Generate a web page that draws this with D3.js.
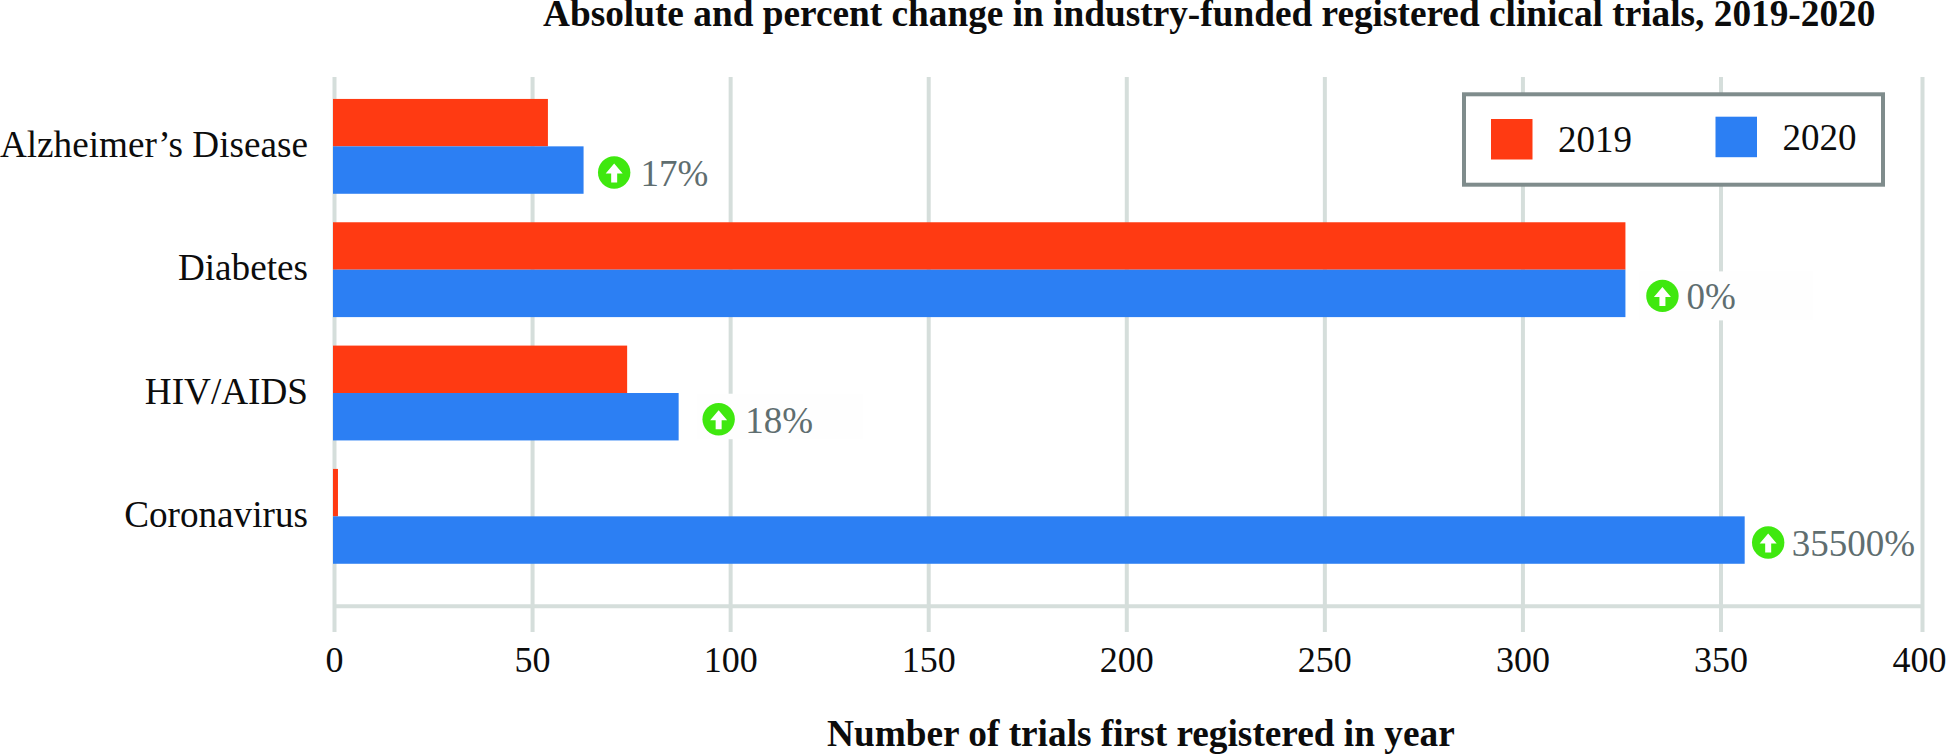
<!DOCTYPE html>
<html>
<head>
<meta charset="utf-8">
<script src="https://cdn.jsdelivr.net/npm/d3@7/dist/d3.min.js"></script>
<style>
html,body{margin:0;padding:0;background:#fff;overflow:hidden}
svg{display:block}
text{font-family:"Liberation Serif","Times New Roman",serif}
</style>
</head>
<body>
<svg id="chart" width="1946" height="756"></svg>
<script>
const categories = ["Alzheimer’s Disease", "Diabetes", "HIV/AIDS", "Coronavirus"];
const seriesNames = ["2019", "2020"];
const values2019 = [54, 326, 74, 1];
const values2020 = [63, 326, 87, 356];
const percentLabels = ["17%", "0%", "18%", "35500%"];
const tickValues = [0, 50, 100, 150, 200, 250, 300, 350, 400];
const titleText = "Absolute and percent change in industry-funded registered clinical trials, 2019-2020";
const xTitleText = "Number of trials first registered in year";

const RED = "#ff3a12", BLUE = "#2c7ff3", GRID = "#d5dedb", FRAME = "#7f8c8c",
      GREEN = "#3fe80f", GREY = "#5f6e70", INK = "#0c0c0c";

const svg = d3.select("#chart");
const x = d3.scaleLinear().domain([0, 350, 400]).range([334, 1720.5, 1922]);
const y = d3.scaleBand().domain(categories).range([57, 605.7]).paddingInner(0.231).paddingOuter(0.34);
const ySub = d3.scaleBand().domain(seriesNames).range([0, y.bandwidth()]);
const colour = d3.scaleOrdinal().domain(seriesNames).range([RED, BLUE]);

// axis + gridlines
const axis = d3.axisBottom(x).tickValues(tickValues).tickSizeOuter(0).tickFormat(d3.format("d"));
const axisY = 605.7;
const gAxis = svg.append("g").attr("transform", `translate(0,${axisY})`).call(axis);
gAxis.select(".domain").attr("stroke", GRID).attr("stroke-width", 4);
gAxis.selectAll(".tick line").attr("stroke", GRID).attr("stroke-width", 4).attr("y1", 26.3).attr("y2", 77 - axisY);
gAxis.selectAll(".tick text")
  .attr("y", 66.5).attr("dy", 0).attr("fill", INK)
  .attr("dx", d => d === 400 ? -3 : 0)
  .style("font-size", "36px").style("font-family", '"Liberation Serif",serif');

// pale knock-outs behind two of the percent labels
const knockouts = [
  {cat: "Diabetes", gap: 14, w: 174, top: -22, h: 49},
  {cat: "HIV/AIDS", gap: 18.5, w: 166, top: -23, h: 45.5}
];
svg.selectAll("rect.knock").data(knockouts).join("rect").attr("class", "knock")
  .attr("x", d => x(values2020[categories.indexOf(d.cat)]) + d.gap)
  .attr("y", d => y(d.cat) + ySub("2020") + ySub.bandwidth() / 2 + d.top)
  .attr("width", d => d.w).attr("height", d => d.h).attr("fill", "#fefefe");

// bars
const barStart = x(0) - 1;
[values2019, values2020].forEach((vals, s) => {
  svg.append("g").selectAll("rect").data(vals).join("rect")
    .attr("x", barStart)
    .attr("y", (d, i) => y(categories[i]) + ySub(seriesNames[s]))
    .attr("width", d => x(d) - barStart)
    .attr("height", ySub.bandwidth())
    .attr("fill", colour(seriesNames[s]));
});

// category labels
svg.append("g").selectAll("text").data(categories).join("text")
  .attr("x", 308).attr("y", d => y(d) + y.bandwidth() / 2 + 10.5)
  .attr("text-anchor", "end").attr("fill", INK).style("font-size", "37.2px").text(d => d);

// percent change markers
const circleGap = [30.6, 37, 40, 23.5];
const textGap = [57, 61, 66.5, 47];
const mark = svg.append("g").selectAll("g").data(categories).join("g")
  .attr("transform", (d, i) => `translate(${x(values2020[i])},${y(d) + ySub("2020") + ySub.bandwidth() / 2})`);
mark.append("circle").attr("cx", (d, i) => circleGap[i]).attr("cy", 2.5).attr("r", 16.2).attr("fill", GREEN);
mark.append("path").attr("fill", "#fff")
  .attr("transform", (d, i) => `translate(${circleGap[i]},2.5)`)
  .attr("d", "M0,-9L8.5,1L3,1L3,10L-3,10L-3,1L-8.5,1Z");
mark.append("text").attr("x", (d, i) => textGap[i]).attr("y", 16)
  .attr("fill", GREY).style("font-size", "37px").text((d, i) => percentLabels[i]);

// legend
const legend = svg.append("g");
legend.append("rect").attr("x", 1464).attr("y", 94.3).attr("width", 419).attr("height", 90.4)
  .attr("fill", "#fff").attr("stroke", FRAME).attr("stroke-width", 4);
const legendX = [1491, 1715.5], legendY = [119, 116.7], legendTextX = [1558, 1782.5], legendBase = [151.5, 149.5];
const li = legend.selectAll("g").data(seriesNames).join("g");
li.append("rect").attr("x", (d, i) => legendX[i]).attr("y", (d, i) => legendY[i])
  .attr("width", 41.5).attr("height", 40.5).attr("fill", d => colour(d));
li.append("text").attr("x", (d, i) => legendTextX[i]).attr("y", (d, i) => legendBase[i])
  .attr("fill", INK).style("font-size", "37px").text(d => d);

// titles
svg.append("text").attr("x", 543).attr("y", 25.5).attr("fill", INK)
  .style("font-size", "37.3px").style("font-weight", "700").text(titleText);
svg.append("text").attr("x", 827).attr("y", 746).attr("fill", INK)
  .style("font-size", "37.3px").style("font-weight", "700").text(xTitleText);
</script>
</body>
</html>
